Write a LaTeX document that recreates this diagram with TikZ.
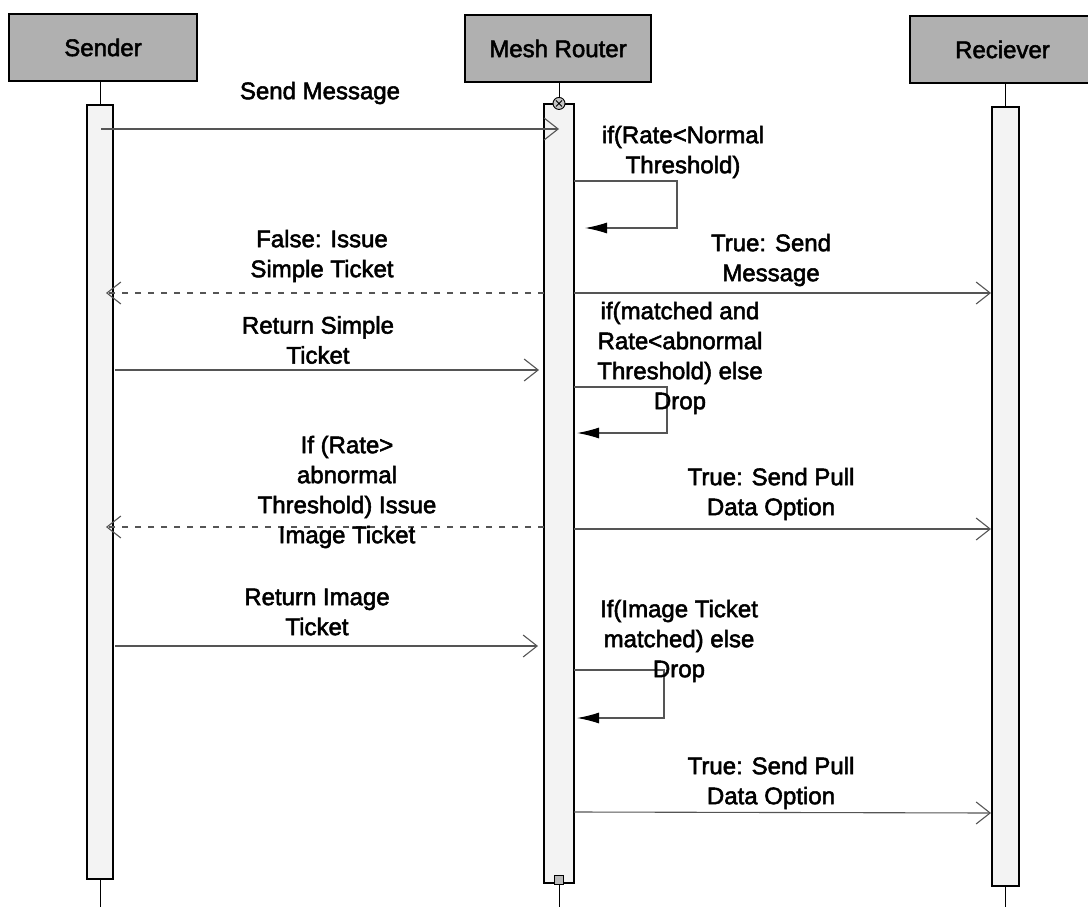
\documentclass[tikz,border=0pt]{standalone}
\usepackage{fontspec}
\setmainfont{Liberation Sans}
\newfontfamily\lblfont{Liberation Sans}[FakeBold=2.2]
\usetikzlibrary{arrows.meta,calc}
\definecolor{headgray}{RGB}{176,176,176}
\definecolor{barfill}{RGB}{243,243,243}
\definecolor{linegray}{RGB}{85,85,85}
\begin{document}
\begin{tikzpicture}[x=1pt,y=-1pt,
  lbl/.style={font=\lblfont\fontsize{24}{30}\selectfont, align=center, inner sep=0pt},
  head/.style={draw=black, line width=1.4pt, fill=headgray, minimum width=186pt,
    minimum height=67pt, inner sep=0pt, font=\lblfont\fontsize{24}{29}\selectfont},
  bar/.style={draw=black, line width=1.1pt, fill=barfill, inner sep=0pt},
  stem/.style={draw=black, line width=1pt},
  msg/.style={draw=linegray, line width=1.1pt,
    -{Straight Barb[length=14pt,width=22pt,line width=1.1pt]}},
  reply/.style={msg, dash pattern=on 6pt off 7pt},
  selfmsg/.style={draw=linegray, line width=1.1pt,
    -{Latex[length=22pt,width=11pt,color=black]}}]
\useasboundingbox (0,0) rectangle (1088,907);

% lifeline heads
\node[head, minimum width=188pt] (shead) at (103,47.5) {Sender};
\node[head] (mhead) at (558,48.5) {Mesh Router};
\node[head, minimum width=185pt] (rhead) at (1002.5,49.5) {Reciever};

% activation bars
\node[bar, minimum width=26pt, minimum height=774pt] (sbar) at (100,492) {};
\node[bar, minimum width=30pt, minimum height=779pt] (mbar) at (559,493.5) {};
\node[bar, minimum width=27pt, minimum height=779pt] (rbar) at (1005.5,496.5) {};

% stems above and below the bars
\coordinate (send) at (100,907);
\coordinate (mend) at (559,907);
\coordinate (rend) at (1005.5,907);
\draw[stem] (shead.south -| sbar.north) -- (sbar.north);
\draw[stem] (mhead.south -| mbar.north) -- (mbar.north);
\draw[stem] (rhead.south -| rbar.north) -- (rbar.north);
\draw[stem] (sbar.south) -- (send);
\draw[stem] (mbar.south) -- (mend);
\draw[stem] (rbar.south) -- (rend);

% start and stop marks of the router's activation
\node[circle, draw=black, line width=0.9pt, fill=gray!45, minimum size=12pt, inner sep=0pt]
  (mstart) at (mbar.north) {};
\draw[line width=0.9pt] ($(mstart.center)+(-3,-3)$) -- ($(mstart.center)+(3,3)$)
  ($(mstart.center)+(-3,3)$) -- ($(mstart.center)+(3,-3)$);
\node[draw=black, line width=0.9pt, fill=gray!55, minimum size=9pt, inner sep=0pt]
  (mstop) at (559,880) {};

% message end points
\coordinate (m1a) at (101,129);   \coordinate (m1b) at (559,129);
\coordinate (m2a) at (544,293);   \coordinate (m2b) at (106,293);
\coordinate (m3a) at (574,293);   \coordinate (m3b) at (991,293);
\coordinate (m4a) at (115,370);   \coordinate (m4b) at (539,370);
\coordinate (m5a) at (544,527);   \coordinate (m5b) at (106,527);
\coordinate (m6a) at (574,529);   \coordinate (m6b) at (991,529);
\coordinate (m7a) at (115,646);   \coordinate (m7b) at (538,646);
\coordinate (m8a) at (574,812);   \coordinate (m8b) at (991,813);

% self calls on the router
\coordinate (l1a) at (574,181); \coordinate (l1b) at (585,228);
\coordinate (l2a) at (574,387); \coordinate (l2b) at (577,433);
\coordinate (l3a) at (574,670); \coordinate (l3b) at (577,718);

% messages
\draw[msg] (m1a) -- (m1b);
\node[lbl] (t1) at (320,93) {Send Message};

\draw[selfmsg] (l1a) -- (677,181) -- (677,228) -- (l1b);
\node[lbl] (t2) at (683,152) {if(Rate<Normal\\Threshold)};

\draw[reply] (m2a) -- (m2b);
\node[lbl] (t3) at (322,256) {False: Issue\\Simple Ticket};

\draw[msg] (m3a) -- (m3b);
\node[lbl] (t4) at (771,260) {True: Send\\Message};

\draw[msg] (m4a) -- (m4b);
\node[lbl] (t5) at (318,340) {Return Simple\\Ticket};

\draw[selfmsg] (l2a) -- (667,387) -- (667,433) -- (l2b);
\node[lbl] (t6) at (680,358) {if(matched and\\Rate<abnormal\\Threshold) else\\Drop};

\draw[reply] (m5a) -- (m5b);
\node[lbl] (t7) at (347,492) {If (Rate>\\abnormal\\Threshold) Issue\\Image Ticket};

\draw[msg] (m6a) -- (m6b);
\node[lbl] (t8) at (771,494) {True: Send Pull\\Data Option};

\draw[msg] (m7a) -- (m7b);
\node[lbl] (t9) at (317,612) {Return Image\\Ticket};

\draw[selfmsg] (l3a) -- (664,670) -- (664,718) -- (l3b);
\node[lbl] (t10) at (679,641) {If(Image Ticket\\matched) else\\Drop};

\draw[msg] (m8a) -- (m8b);
\node[lbl] (t11) at (771,783) {True: Send Pull\\Data Option};
\end{tikzpicture}
\end{document}
